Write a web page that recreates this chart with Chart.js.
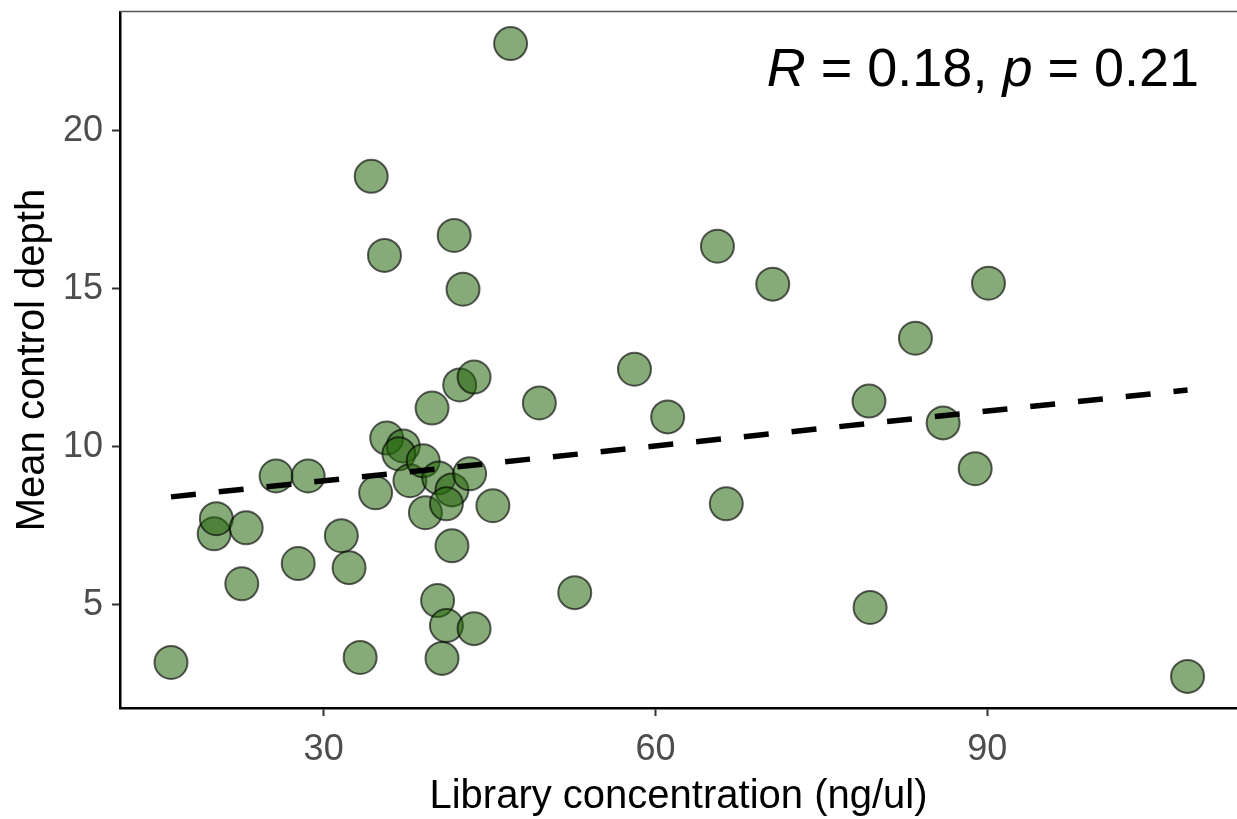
<!DOCTYPE html>
<html>
<head>
<meta charset="utf-8">
<script src="https://cdn.jsdelivr.net/npm/chart.js@4/dist/chart.umd.min.js"></script>
<style>
  html, body { margin: 0; padding: 0; background: #fff; }
  #wrap { width: 1237px; height: 819px; }
</style>
</head>
<body>
<div id="wrap"><canvas id="scatter" width="1237" height="819"></canvas></div>
<script>
// values
const libConc = [16.2, 20.1, 20.3, 23.0, 22.6, 25.7, 28.6, 27.7, 31.6, 32.3,
                 33.3, 34.3, 35.5, 34.7, 35.7, 37.2, 36.8, 37.8, 39.0, 39.8,
                 39.2, 40.4, 41.6, 43.2, 41.1, 45.3, 41.6, 42.3, 43.6, 41.8,
                 42.6, 46.9, 49.5, 40.3, 41.1, 43.6, 40.7, 52.7, 58.1, 61.1,
                 65.6, 66.4, 70.6, 79.4, 79.3, 83.5, 86.0, 88.9, 90.1, 108.1];
const meanDepth = [3.18, 7.25, 7.73, 7.44, 5.67, 9.08, 9.08, 6.31, 7.19, 6.18,
                   3.34, 18.56, 16.06, 8.55, 10.28, 10.03, 9.78, 8.93, 9.56, 11.23,
                   7.92, 9.02, 8.64, 9.15, 8.2, 8.14, 6.87, 11.96, 12.21, 16.69,
                   14.99, 22.76, 11.39, 5.14, 4.35, 4.25, 3.31, 5.39, 12.46, 10.95,
                   16.35, 8.2, 15.15, 4.92, 11.45, 13.44, 10.76, 9.31, 15.18, 2.74];
const fitX = [16.2, 108.1];
const fitY = [8.42, 11.8];
const xTicks = [30, 60, 90];
const yTicks = [5, 10, 15, 20];
const statText = [['R', true], [' = 0.18, ', false], ['p', true], [' = 0.21', false]];

const FONT = "'Liberation Sans', Arial, Helvetica, sans-serif";

const points = libConc.map((x, i) => ({ x: x, y: meanDepth[i] }));
const fitLine = fitX.map((x, i) => ({ x: x, y: fitY[i] }));

const extras = {
    id: 'extras',
    afterDraw(chart) {
        const ctx = chart.ctx;
        const a = chart.chartArea;
        // thin top frame line
        ctx.save();
        ctx.strokeStyle = '#555';
        ctx.lineWidth = 1.5;
        ctx.beginPath();
        ctx.moveTo(a.left, a.top - 0.5);
        ctx.lineTo(a.right, a.top - 0.5);
        ctx.stroke();

        // R / p label
        const cx = chart.scales.x.getPixelForValue(89.6);
        const cy = chart.scales.y.getPixelForValue(21.9);
        const size = 54;
        let total = 0;
        statText.forEach(([t, it]) => {
            ctx.font = (it ? 'italic ' : '') + size + 'px ' + FONT;
            total += ctx.measureText(t).width;
        });
        let x = cx - total / 2;
        ctx.fillStyle = '#000';
        ctx.textBaseline = 'middle';
        ctx.textAlign = 'left';
        statText.forEach(([t, it]) => {
            ctx.font = (it ? 'italic ' : '') + size + 'px ' + FONT;
            ctx.fillText(t, x, cy);
            x += ctx.measureText(t).width;
        });
        ctx.restore();
    }
};

const scatterEl = document.getElementById('scatter');

const scatter = new Chart(scatterEl, {
    type: 'scatter',
    data: {
        datasets: [{
            type: 'line',
            data: fitLine,
            borderColor: '#000',
            borderWidth: 5.5,
            borderDash: [25, 23],
            pointRadius: 0,
            fill: false,
            order: 0
        }, {
            data: points,
            backgroundColor: 'rgba(34, 100, 10, 0.55)',
            borderColor: 'rgba(0, 0, 0, 0.62)',
            borderWidth: 2,
            pointRadius: 16.5,
            pointHoverRadius: 16.5,
            order: 1
        }]
    },
    options: {
        responsive: false,
        animation: false,
        layout: { autoPadding: false, padding: { top: 12, right: 0, left: 0, bottom: 0 } },
        plugins: {
            legend: { display: false },
            tooltip: { enabled: false }
        },
        scales: {
            x: {
                type: 'linear',
                min: 11.59,
                max: 112.57,
                afterBuildTicks: s => { s.ticks = xTicks.map(v => ({ value: v })); },
                afterFit: s => { s.height = 111; s.paddingLeft = 0; s.paddingRight = 0; },
                grid: { drawOnChartArea: false, tickLength: 8, tickColor: '#333', tickWidth: 2 },
                border: { display: true, color: '#000', width: 2.5 },
                ticks: {
                    color: '#4d4d4d',
                    padding: 12,
                    font: { family: FONT, size: 36 }
                },
                title: {
                    display: true,
                    text: 'Library concentration (ng/ul)',
                    color: '#000',
                    font: { family: FONT, size: 40, lineHeight: 1.1 },
                    padding: { top: 0, bottom: 0 }
                }
            },
            y: {
                type: 'linear',
                min: 1.74,
                max: 23.76,
                afterBuildTicks: s => { s.ticks = yTicks.map(v => ({ value: v })); },
                afterFit: s => { s.width = 120; s.paddingTop = 0; s.paddingBottom = 0; },
                grid: { drawOnChartArea: false, tickLength: 8, tickColor: '#333', tickWidth: 2 },
                border: { display: true, color: '#000', width: 2.5 },
                ticks: {
                    color: '#4d4d4d',
                    padding: 9,
                    font: { family: FONT, size: 36 }
                },
                title: {
                    display: true,
                    text: 'Mean control depth',
                    color: '#000',
                    font: { family: FONT, size: 40, lineHeight: 1.1 },
                    padding: { top: 11, bottom: 0 }
                }
            }
        }
    },
    plugins: [extras]
});
</script>
</body>
</html>
